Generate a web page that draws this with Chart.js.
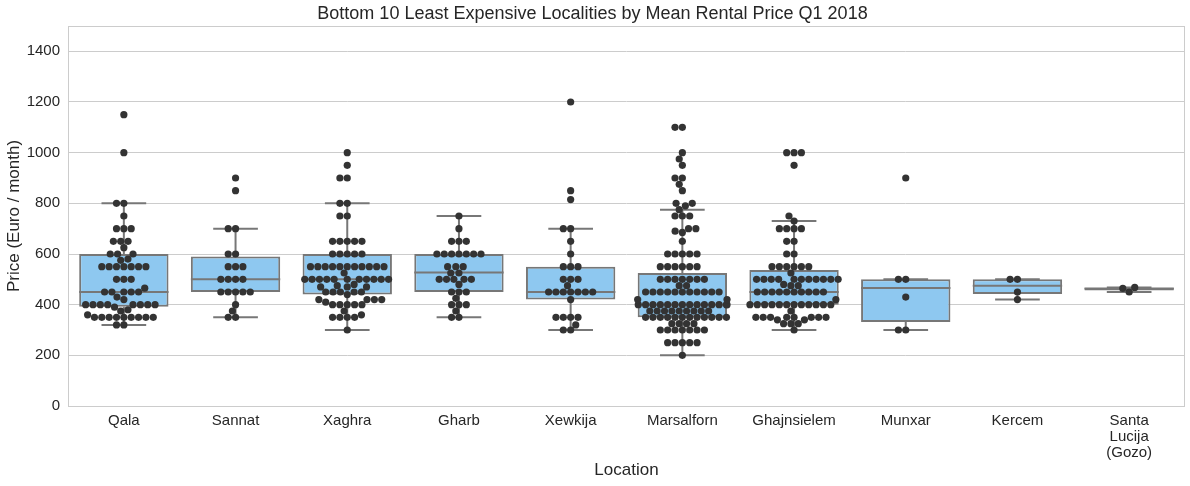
<!DOCTYPE html>
<html lang="en">

<head>
    <meta charset="UTF-8">
    <title>Bottom 10 Least Expensive Localities</title>
    <script src="https://cdn.jsdelivr.net/npm/chart.js"></script>
    <style>
        html, body { margin: 0; padding: 0; background: #fff; }
        .grafico { width: 1190px; height: 486px; }
    </style>
</head>

<body>
    <div class="grafico">
        <canvas id="caixas"></canvas>
    </div>
</body>

</html>
<script>
    const categories = ['Qala', 'Sannat', 'Xaghra', 'Gharb', 'Xewkija', 'Marsalforn', 'Ghajnsielem', 'Munxar', 'Kercem', ['Santa', 'Lucija', '(Gozo)']];

    // individual listings per locality (Euro / month)
    const qala = [1150, 1000, 800, 800, 750, 700, 700, 700, 650, 650, 650, 625, 600, 600, 600, 580, 575,
        550, 550, 550, 550, 550, 550, 550, 500, 500, 500, 465, 450, 450, 450, 450, 450, 430, 420,
        400, 400, 400, 400, 400, 400, 400, 400, 390, 380, 375, 360,
        350, 350, 350, 350, 350, 350, 350, 350, 350, 320, 320];
    const sannat = [900, 850, 700, 700, 600, 600, 550, 550, 550, 500, 500, 500, 500,
        450, 450, 450, 450, 450, 400, 375, 350, 350];
    const xaghra = [1000, 950, 900, 900, 800, 800, 750, 750, 650, 650, 650, 650, 650, 600, 600, 600, 600, 600,
        550, 550, 550, 550, 550, 550, 550, 550, 550, 550, 550, 525,
        500, 500, 500, 500, 500, 500, 500, 500, 500, 500, 500, 480, 475, 470, 470, 470,
        450, 450, 450, 450, 450, 440, 420, 420, 420, 420, 410, 400, 400, 400, 400, 400,
        375, 360, 350, 350, 350, 350, 300];
    const gharb = [750, 700, 650, 650, 650, 600, 600, 600, 600, 600, 600, 600, 550, 550, 550, 525, 525,
        500, 500, 500, 500, 500, 480, 450, 450, 450, 425, 400, 400, 400, 375, 350, 350];
    const xewkija = [1200, 850, 815, 700, 700, 650, 600, 550, 550, 550, 500, 500, 500, 475,
        450, 450, 450, 450, 450, 450, 450, 420, 350, 350, 350, 350, 320, 300, 300];
    const marsalforn = [1100, 1100, 1000, 975, 950, 900, 900, 875, 850, 800, 800, 790, 775, 750, 750, 750,
        700, 700, 690, 685, 650, 600, 600, 600, 600, 600, 550, 550, 550, 550, 550, 550,
        500, 500, 500, 500, 500, 500, 500, 475, 475,
        450, 450, 450, 450, 450, 450, 450, 450, 450, 450, 450, 420, 420,
        400, 400, 400, 400, 400, 400, 400, 400, 400, 400, 400, 400, 400, 400,
        375, 375, 375, 375, 375, 375, 375, 375, 375,
        350, 350, 350, 350, 350, 350, 350, 350, 350, 350, 350, 350,
        325, 325, 325, 325, 300, 300, 300, 300, 300, 300, 300, 250, 250, 250, 250, 250, 200];
    const ghajnsielem = [1000, 1000, 1000, 950, 750, 730, 700, 700, 700, 700, 650, 650, 600, 600,
        550, 550, 550, 550, 550, 550, 525, 500, 500, 500, 500, 500, 500, 500, 500, 500, 500, 500,
        480, 475, 475, 450, 450, 450, 450, 450, 450, 450, 450, 450, 450, 420,
        400, 400, 400, 400, 400, 400, 400, 400, 400, 400, 400, 400, 375,
        350, 350, 350, 350, 350, 350, 350, 350, 340, 340, 325, 325, 325, 300];
    const munxar = [900, 500, 500, 430, 300, 300];
    const kercem = [500, 500, 450, 420];
    const santaLucija = [468, 464, 450];

    const prices = [qala, sannat, xaghra, gharb, xewkija, marsalforn, ghajnsielem, munxar, kercem, santaLucija];

    // box statistics
    const q1 = [392, 450, 440, 450, 420, 350, 400, 332, 442, 456];
    const medians = [450, 500, 500, 527, 450, 400, 450, 466, 475, 464];
    const q3 = [600, 590, 600, 600, 550, 525, 537, 500, 500, 466];
    const whiskerLow = [320, 350, 300, 350, 300, 200, 300, 300, 420, 450];
    const whiskerHigh = [800, 700, 800, 750, 700, 775, 730, 500, 500, 468];

    const yTicks = [0, 200, 400, 600, 800, 1000, 1200, 1400];

    const cinzaLinha = '#777777';
    const corCaixa = '#8ec8f0';
    const corPonto = '#333333';
    const fonte = '"Liberation Sans", Arial, sans-serif';

    const moldura = {
        id: 'moldura',
        beforeDatasetsDraw(chart) {
            const { ctx, chartArea: a } = chart;
            ctx.save();
            ctx.strokeStyle = '#cccccc';
            ctx.lineWidth = 1;
            ctx.strokeRect(a.left + 0.5, a.top + 0.5, a.right - a.left - 1, a.bottom - a.top);
            ctx.restore();
        }
    };

    const bigodes = {
        id: 'bigodes',
        afterDatasetDraw(chart, args) {
            if (args.index !== 0) return;
            const { ctx, scales: { x, y } } = chart;
            const passo = x.getPixelForValue(1) - x.getPixelForValue(0);
            const meiaCaixa = passo * 0.4;
            const meioCap = passo * 0.2;
            ctx.save();
            ctx.strokeStyle = cinzaLinha;
            ctx.lineWidth = 2;
            ctx.lineCap = 'butt';
            const linha = (x1, y1, x2, y2) => {
                ctx.beginPath();
                ctx.moveTo(x1, y1);
                ctx.lineTo(x2, y2);
                ctx.stroke();
            };
            categories.forEach((c, i) => {
                const cx = x.getPixelForValue(i);
                linha(cx, y.getPixelForValue(q3[i]), cx, y.getPixelForValue(whiskerHigh[i]));
                linha(cx, y.getPixelForValue(q1[i]), cx, y.getPixelForValue(whiskerLow[i]));
                linha(cx - meioCap, y.getPixelForValue(whiskerHigh[i]), cx + meioCap, y.getPixelForValue(whiskerHigh[i]));
                linha(cx - meioCap, y.getPixelForValue(whiskerLow[i]), cx + meioCap, y.getPixelForValue(whiskerLow[i]));
                linha(cx - meiaCaixa, y.getPixelForValue(medians[i]), cx + meiaCaixa, y.getPixelForValue(medians[i]));
            });
            ctx.restore();
        }
    };

    const grafico = new Chart(document.getElementById('caixas'), {
        type: 'bar',
        data: {
            labels: categories,
            datasets: [{
                label: 'box',
                data: categories.map((c, i) => [q1[i], q3[i]]),
                backgroundColor: corCaixa,
                borderColor: cinzaLinha,
                borderWidth: 2,
                borderSkipped: false,
                grouped: false,
                barPercentage: 0.8,
                categoryPercentage: 1.0,
                order: 2
            }, {
                type: 'scatter',
                label: 'listings',
                data: [],
                xAxisID: 'xs',
                backgroundColor: corPonto,
                borderWidth: 0,
                pointRadius: 3.6,
                pointHoverRadius: 3.6,
                order: 1
            }]
        },
        options: {
            responsive: true,
            maintainAspectRatio: false,
            animation: false,
            layout: { padding: { left: 0, right: 5, top: 0, bottom: 0 } },
            scales: {
                x: {
                    type: 'category',
                    offset: true,
                    grid: { display: false, drawTicks: false },
                    border: { display: false },
                    ticks: {
                        color: '#262626',
                        font: { family: fonte, size: 15, lineHeight: 1.05 },
                        padding: 7,
                        maxRotation: 0,
                        autoSkip: false
                    },
                    title: {
                        display: true,
                        text: 'Location',
                        color: '#262626',
                        font: { family: fonte, size: 17 },
                        padding: { top: 0, bottom: 5 }
                    },
                    afterFit: s => { s.height = 80; }
                },
                xs: {
                    type: 'linear',
                    axis: 'x',
                    display: false,
                    offset: false,
                    min: -0.5,
                    max: 9.5
                },
                y: {
                    min: 0,
                    max: 1500,
                    grid: { color: '#cccccc', lineWidth: 1, drawTicks: false },
                    border: { display: false },
                    afterBuildTicks: s => { s.ticks = yTicks.map(v => ({ value: v })); },
                    ticks: {
                        color: '#262626',
                        font: { family: fonte, size: 15 },
                        padding: 8,
                        callback: v => String(v)
                    },
                    title: {
                        display: true,
                        text: 'Price (Euro / month)',
                        color: '#262626',
                        font: { family: fonte, size: 17 },
                        padding: { top: 4, bottom: 0 }
                    },
                    afterFit: s => { s.width = 68; }
                }
            },
            plugins: {
                legend: { display: false },
                tooltip: { enabled: false },
                title: {
                    display: true,
                    text: 'Bottom 10 Least Expensive Localities by Mean Rental Price Q1 2018',
                    color: '#262626',
                    font: { family: fonte, size: 18, weight: 'normal' },
                    padding: { top: 3, bottom: 1.4 }
                }
            }
        },
        plugins: [moldura, bigodes]
    });

    // beeswarm layout (same idea as seaborn's swarmplot), done in pixels
    function enxame(valores, cx, yScale, d, limite) {
        const ordem = valores.map(v => ({ v, y: yScale.getPixelForValue(v) }))
            .sort((a, b) => b.y - a.y);
        const colocados = [];
        ordem.forEach(p => {
            const vizinhos = colocados.filter(q => Math.abs(q.y - p.y) < d);
            const cands = [cx];
            vizinhos.forEach(q => {
                const dy = p.y - q.y;
                const dx = Math.sqrt(d * d - dy * dy) * 1.05;
                cands.push(q.x - dx, q.x + dx);
            });
            const ord = cands.map((x, k) => ({ x, k }))
                .sort((a, b) => Math.abs(a.x - cx) - Math.abs(b.x - cx) || a.k - b.k);
            let escolhido = ord[0].x;
            for (const c of ord) {
                const ok = vizinhos.every(q => (c.x - q.x) ** 2 + (p.y - q.y) ** 2 >= d * d * 0.999);
                if (ok) { escolhido = c.x; break; }
            }
            colocados.push({ v: p.v, x: escolhido, y: p.y });
        });
        return colocados.map(q => ({
            v: q.v,
            x: Math.max(cx - limite, Math.min(cx + limite, q.x))
        }));
    }

    // swarm offsets are worked out in pixels on the category axis, then stored as axis units
    const eixoX = grafico.scales.x;
    const passoPx = eixoX.getPixelForValue(1) - eixoX.getPixelForValue(0);
    const pontos = [];
    prices.forEach((grupo, i) => {
        const cx = eixoX.getPixelForValue(i);
        enxame(grupo, cx, grafico.scales.y, 7, passoPx * 0.4).forEach(p => {
            pontos.push({ x: i + (p.x - cx) / passoPx, y: p.v });
        });
    });
    grafico.data.datasets[1].data = pontos;
    grafico.update('none');
</script>
